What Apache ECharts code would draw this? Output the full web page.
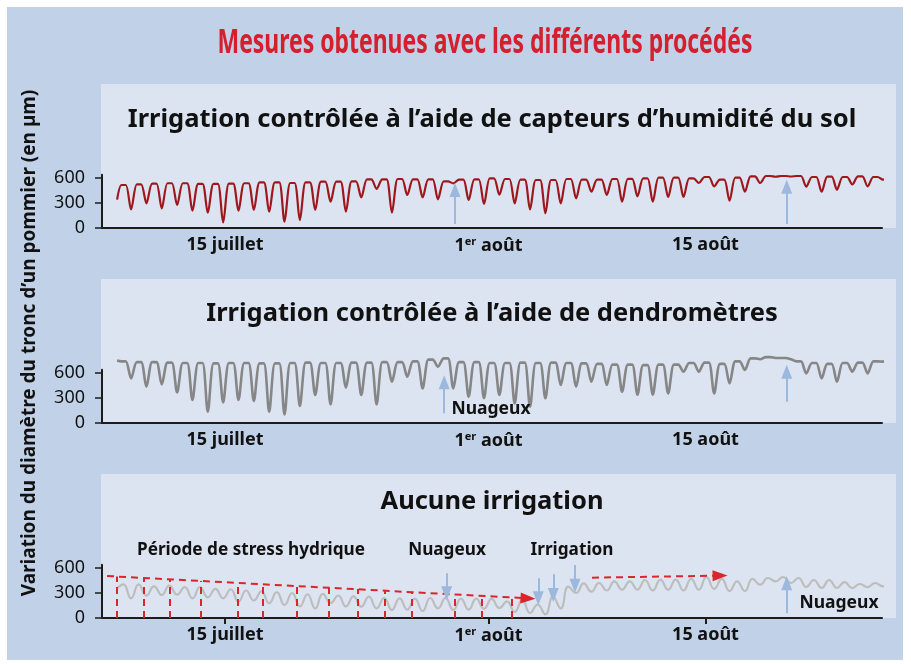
<!DOCTYPE html>
<html><head><meta charset="utf-8">
<script src="https://cdn.jsdelivr.net/npm/echarts@6/dist/echarts.min.js"></script>
<style>html,body{margin:0;padding:0;background:#fff;}#c{width:911px;height:664px;}</style>
</head><body><div id="c"></div>
<script>
// ---------- data (x in days since 1 July 00:00) ----------
const firstDipDay = 7.94;   // first daily contraction
const lastDipDay = 56.45;   // last daily contraction
const tickDays = [14, 31, 45];
const tickLabels = ['15 juillet', '1er août', '15 août'];
const yTicks = [0, 300, 600];

// Panel 1 : capteurs d'humidité du sol (daily max / daily min, µm)
const p1Start = 340, p1End = 620;
const p1Max = [516,524,532,537,537,530,530,532,537,548,
               548,540,548,556,556,560,584,584,588,584,
               584,560,580,584,596,588,580,576,576,588,
               580,580,588,590,596,604,604,596,612,580,
               604,620,624,624,624,612,616,612,620,612];
const p1Min = [224,296,236,276,208,184,68,208,216,196,
               76,96,216,316,196,368,470,184,396,368,
               344,536,336,288,400,296,224,176,296,356,
               436,396,316,380,316,372,372,540,500,328,
               436,540,615,618,496,436,460,523,500,580];
// Panel 2 : dendromètres
const p2Start = 750, p2End = 770;
const p2Max = [740,730,730,725,720,720,715,720,720,715,
               715,720,725,720,720,725,725,730,730,740,
               760,775,730,730,720,720,725,720,725,720,
               715,710,700,700,695,700,700,720,725,710,
               740,775,790,780,740,720,710,720,725,740];
const p2Min = [536,436,464,368,276,136,248,276,264,136,
               104,204,336,224,424,336,224,496,556,416,
               676,416,316,298,336,236,196,298,456,436,
               496,456,376,340,340,356,616,616,356,476,
               636,765,780,765,596,536,496,616,596,736];
// Panel 3 : aucune irrigation
const p3Start = 356, p3End = 408;
const p3Max = [404,404,380,390,370,372,350,345,330,320,
               310,300,285,290,270,260,256,240,236,232,
               240,240,232,232,230,200,220,160,256,376,
               416,420,440,440,456,460,460,470,492,470,
               440,470,480,492,480,456,456,430,408,420];
const p3Min = [236,268,276,280,236,248,236,196,210,176,
               156,140,116,180,140,136,116,96,100,84,
               116,96,100,110,120,72,60,44,116,300,
               316,330,340,340,330,340,330,340,350,324,
               324,400,440,420,372,360,360,360,370,380];

// annotations
const p1Trend = [[6.39, 596], [55.94, 688]];
const p2Trend = [[6.39, 794], [55.74, 794]];
const p3Trend = [[6.39, 504], [33.55, 236]];
const p3Trend2 = [[37.68, 484], [45.94, 508]];
const stressDays = [7.03, 8.77, 10.45, 12.45, 14.84, 16.45, 18.65, 20.71, 22.58, 24.32, 26.06, 28.84, 30.58, 32.52];
const stressTops = [498, 481, 464, 445, 421, 406, 385, 365, 347, 330, 313, 286, 269, 250];
const p1Cloud = [[28.84, 48, 456], [50.24, 48, 496]];
const p2Cloud = [[28.14, 116, 488], [50.24, 256, 616]];
const p3CloudDown = [[28.3, 536, 296]];
const p3Irrig = [[34.21, 476, 236], [35.18, 524, 276], [36.58, 636, 388]];
const p3CloudUp = [[50.24, 56, 416]];

// ---------- build ----------
const RED = '#d9262c', BLUE = '#9cb8dc';
const FONT = '"Noto Sans", sans-serif';
function spiky(start, maxs, mins, end) {
  const n = mins.length, per = (lastDipDay - firstDipDay) / (n - 1);
  const pts = [[firstDipDay - 0.9, start]];
  for (let i = 0; i < n; i++) {
    const t = firstDipDay + i * per;
    pts.push([t - 0.62, maxs[i]], [t - 0.34, maxs[i]], [t, mins[i]]);
  }
  pts.push([lastDipDay + 0.35, end]);
  return pts;
}
function wave(start, maxs, mins, end) {
  const n = mins.length, per = (lastDipDay - firstDipDay) / (n - 1);
  const pts = [[firstDipDay - 0.9, start]];
  for (let i = 0; i < n; i++) {
    const t = firstDipDay + i * per;
    pts.push([t - 0.5, maxs[i]], [t, mins[i]]);
  }
  pts.push([lastDipDay + 0.3, end]);
  return pts;
}
function arrowLine(a, b, color, dashed) {
  return [{coord: a, symbol: 'none', lineStyle: {color: color, width: 2, type: dashed ? [7, 5] : 'solid'}},
          {coord: b, symbol: 'triangle', symbolSize: dashed ? [11, 15] : [11, 14], itemStyle: {color: color}}];
}
function cloudArrows(list) {
  return list.map(c => arrowLine([c[0], c[1]], [c[0], c[2]], BLUE, false));
}

const tops = [174.67, 369.67, 564.67];
const grids = tops.map(t => ({left: 102, width: 780, top: t, height: 53.33}));
const xAxes = [0, 1, 2].map(i => ({
  type: 'value', gridIndex: i, min: 6.0645, max: 56.387,
  axisLine: {show: true, onZero: false, lineStyle: {color: '#1c1c1c', width: 2}},
  axisTick: {show: i === 2, customValues: tickDays, length: 6, lineStyle: {color: '#1c1c1c', width: 2}},
  splitLine: {show: false},
  axisLabel: {
    customValues: tickDays, margin: 8, color: '#111', fontFamily: FONT, fontWeight: 'bold', fontSize: 18,
    formatter: v => {
      const k = tickDays.indexOf(v);
      const s = tickLabels[k] || '';
      return s.indexOf('1er') === 0 ? '1{sup|er}' + s.slice(3) : s;
    },
    rich: {sup: {fontSize: 11, fontWeight: 'bold', fontFamily: FONT, color: '#111', verticalAlign: 'top', padding: [0, 0, 8, 0]}}
  }
}));
const yAxes = [0, 1, 2].map(i => ({
  type: 'value', gridIndex: i, min: 0, max: 640,
  axisLine: {show: true, lineStyle: {color: '#1c1c1c', width: 2}},
  axisTick: {show: true, customValues: yTicks, length: 7, lineStyle: {color: '#1c1c1c', width: 1.5}},
  axisLabel: {customValues: yTicks, margin: 17, color: '#111', fontFamily: FONT, fontSize: 18},
  splitLine: {show: false}
}));

const series = [
  {type: 'line', xAxisIndex: 0, yAxisIndex: 0, data: spiky(p1Start, p1Max, p1Min, p1End),
   showSymbol: false, smooth: 0.3, clip: false, lineStyle: {color: '#9e171c', width: 2.2},
   markLine: {silent: true, label: {show: false}, animation: false,
     data: [arrowLine(p1Trend[0], p1Trend[1], RED, true)].concat(cloudArrows(p1Cloud))}},
  {type: 'line', xAxisIndex: 1, yAxisIndex: 1, data: spiky(p2Start, p2Max, p2Min, p2End),
   showSymbol: false, smooth: 0.3, clip: false, lineStyle: {color: '#868686', width: 2.6},
   markLine: {silent: true, label: {show: false}, animation: false,
     data: [arrowLine(p2Trend[0], p2Trend[1], RED, true)].concat(cloudArrows(p2Cloud))}},
  {type: 'line', xAxisIndex: 2, yAxisIndex: 2, data: wave(p3Start, p3Max, p3Min, p3End),
   showSymbol: false, smooth: 0.5, clip: false, lineStyle: {color: '#bdbdbd', width: 2.2},
   markLine: {silent: true, label: {show: false}, animation: false,
     data: [arrowLine(p3Trend[0], p3Trend[1], RED, true), arrowLine(p3Trend2[0], p3Trend2[1], RED, true)]
       .concat(stressDays.map((d, k) => [{coord: [d, 0], symbol: 'none', lineStyle: {color: RED, width: 2, type: [7, 5]}}, {coord: [d, stressTops[k]], symbol: 'none'}]))
       .concat(cloudArrows(p3CloudDown)).concat(cloudArrows(p3Irrig)).concat(cloudArrows(p3CloudUp))}}
];

function txt(x, y, text, size, weight, color, family, scaleX) {
  return {type: 'text', x: x, y: y, silent: true, z: 10, scaleX: scaleX || 1,
    style: {text: text, fill: color || '#111', font: (weight || 'bold') + ' ' + size + 'px ' + (family || FONT),
            textAlign: 'center', textVerticalAlign: 'middle'}};
}
// condensed look for the main title: fit its width to the reference block
const TITLE = 'Mesures obtenues avec les différents procédés';
const titleFont = 'bold 34px ' + FONT;
const mctx = document.createElement('canvas').getContext('2d');
mctx.font = titleFont;
const titleScale = 535 / mctx.measureText(TITLE).width;

const graphic = [
  {type: 'rect', shape: {x: 7, y: 7, width: 896, height: 653}, style: {fill: '#c1d2e8'}, z: -10, silent: true},
  {type: 'rect', shape: {x: 101, y: 84, width: 795, height: 144}, style: {fill: '#dce4f1'}, z: -9, silent: true},
  {type: 'rect', shape: {x: 101, y: 279, width: 795, height: 144}, style: {fill: '#dce4f1'}, z: -9, silent: true},
  {type: 'rect', shape: {x: 101, y: 474, width: 795, height: 144}, style: {fill: '#dce4f1'}, z: -9, silent: true},
  txt(485, 43, TITLE, 34, 'bold', '#d51f2e', FONT, titleScale),
  txt(492, 120, 'Irrigation contrôlée à l’aide de capteurs d’humidité du sol', 25.5),
  txt(492, 314, 'Irrigation contrôlée à l’aide de dendromètres', 25.5),
  txt(492, 502, 'Aucune irrigation', 25.5),
  txt(491, 409, 'Nuageux', 17.5),
  txt(251, 550, 'Période de stress hydrique', 17.2),
  txt(447, 550, 'Nuageux', 17.2),
  txt(572, 550, 'Irrigation', 17.2),
  txt(839, 603, 'Nuageux', 17.5),
  {type: 'text', x: 30, y: 343, rotation: Math.PI / 2, silent: true, z: 10,
   style: {text: 'Variation du diamètre du tronc d’un pommier (en µm)', fill: '#111',
           font: 'bold 19px ' + FONT, textAlign: 'center', textVerticalAlign: 'middle'}}
];

const chart = echarts.init(document.getElementById('c'), null, {renderer: 'canvas'});
chart.setOption({
  animation: false, backgroundColor: '#ffffff',
  grid: grids, xAxis: xAxes, yAxis: yAxes, series: series, graphic: graphic
});
</script></body></html>
